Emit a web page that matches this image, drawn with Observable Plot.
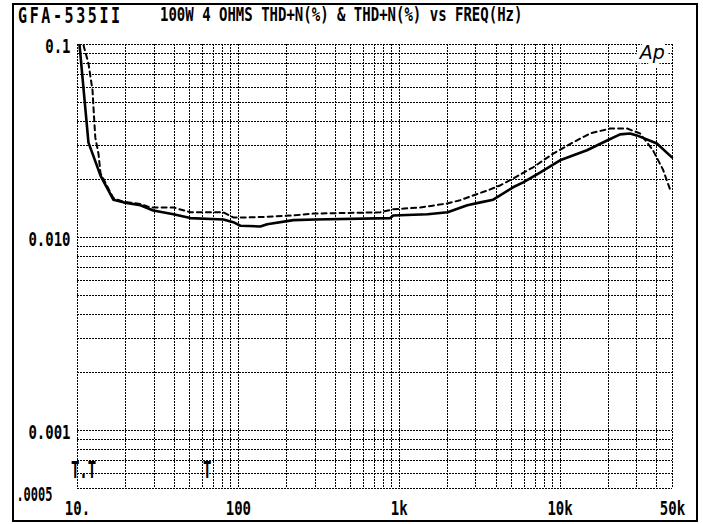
<!DOCTYPE html>
<html><head><meta charset="utf-8">
<script src="https://cdn.jsdelivr.net/npm/d3@7"></script>
<script src="https://cdn.jsdelivr.net/npm/@observablehq/plot@0.6"></script>
<style>
body{margin:0;background:#fff;}
#wrap{position:relative;width:703px;height:524px;overflow:hidden;background:#fff;}
#frame{position:absolute;left:12px;top:3px;width:686px;height:519px;border:2px solid #000;box-sizing:border-box;pointer-events:none;}
.ttl{position:absolute;top:3px;font:bold 14px "DejaVu Sans Mono",monospace;color:#000;white-space:pre;transform:scaleY(1.4);transform-origin:0 0;}
#chart{position:absolute;left:0;top:26px;}
</style></head>
<body>
<div id="wrap">
  <div class="ttl" id="t1" style="left:18px;letter-spacing:2.6px;font-size:15px;"></div>
  <div class="ttl" id="t2" style="left:160px;"></div>
  <div id="chart"></div>
  <div id="frame"></div>
</div>
<script>
// ---- data ----
const modelName = "GFA-535II";
const titleText = "100W 4 OHMS THD+N(%) & THD+N(%) vs FREQ(Hz)";

// solid trace (Hz, THD+N %)
const solidFreq = [10.3, 11.7, 12.4, 13.9, 16.7, 19.3, 24.6, 29.6, 39.5, 50.3, 80.7, 93, 103, 137, 151, 220, 300, 880, 918, 1500, 2000, 2650, 3200, 3840, 5100, 5900, 7500, 10000, 14700, 19600, 23600, 27200, 30000, 40000, 49600];
const solidThd  = [0.099, 0.031, 0.0272, 0.0209, 0.0157, 0.0152, 0.0147, 0.0138, 0.0132, 0.0126, 0.0124, 0.0120, 0.0115, 0.0114, 0.0117, 0.0123, 0.0124, 0.0126, 0.0130, 0.0132, 0.0135, 0.0147, 0.0152, 0.0157, 0.0182, 0.0193, 0.0217, 0.0251, 0.0283, 0.0318, 0.0342, 0.0346, 0.0338, 0.0307, 0.0260];

// dashed trace (Hz, THD+N %)
const dashFreq = [10.9, 11.7, 12.4, 12.6, 12.9, 13.5, 13.9, 16.7, 19.3, 24.6, 28.4, 39.5, 50.3, 80.7, 93, 114, 151, 220, 292, 762, 918, 1350, 1990, 2390, 2880, 3520, 4240, 5100, 6800, 9060, 12050, 15360, 20460, 26070, 31400, 37800, 43600, 48200];
const dashThd  = [0.099, 0.0798, 0.0578, 0.0455, 0.0330, 0.0272, 0.0215, 0.0160, 0.0153, 0.0149, 0.0143, 0.0143, 0.0135, 0.0135, 0.0127, 0.0127, 0.0128, 0.0130, 0.0133, 0.0135, 0.0140, 0.0143, 0.0150, 0.0156, 0.0165, 0.0175, 0.0186, 0.0202, 0.0231, 0.0272, 0.0311, 0.0346, 0.0367, 0.0367, 0.0346, 0.0283, 0.0225, 0.0178];

// axis ticks and labels
const xTickValues = [10, 100, 1000, 10000, 50000];
const xTickLabels = ["10.", "100", "1k", "10k", "50k"];
const yTickValues = [0.1, 0.01, 0.001];
const yTickLabels = ["0.1", "0.010", "0.001"];
const yLowTickValues = [0.0005];
const yLowTickLabels = [".0005"];
const xDomain = [10, 50000];
const yDomain = [0.0005, 0.1];

// cursor markers and logo
const markerFreq = [10.9, 64];
const markerThd = [0.00062, 0.00062];
const markerText = ["T.T", "T"];
const logoFreq = [37500];
const logoThd = [0.0905];
const logoText = ["Ap"];

// grid positions (1..9 per decade)
const xGrid = [10, 100, 1000, 10000].flatMap(d => d3.range(1, 10).map(k => k * d)).filter(v => v <= 50000);
const yGrid = [0.0001, 0.001, 0.01].flatMap(d => d3.range(1, 10).map(k => +(k * d).toPrecision(3))).filter(v => v >= 0.0005).concat([0.1]);

const solid = solidFreq.map((f, i) => ({f, v: solidThd[i]}));
const dashed = dashFreq.map((f, i) => ({f, v: dashThd[i]}));
const markers = markerFreq.map((f, i) => ({f, v: markerThd[i], t: markerText[i]}));
const logo = logoFreq.map((f, i) => ({f, v: logoThd[i], t: logoText[i]}));
const xTicks = xTickValues.map((v, i) => ({v, t: xTickLabels[i]}));
const yTicks = yTickValues.map((v, i) => ({v, t: yTickLabels[i]}));
const yLowTicks = yLowTickValues.map((v, i) => ({v, t: yLowTickLabels[i]}));

document.getElementById("t1").textContent = modelName;
document.getElementById("t2").textContent = titleText;

const dots = "1.5,1.5";
const chart = Plot.plot({
  width: 703,
  height: 498,
  marginLeft: 77,
  marginRight: 31,
  marginTop: 18,
  marginBottom: 36,
  x: {type: "log", domain: xDomain, axis: null},
  y: {type: "log", domain: yDomain, axis: null},
  style: {fontFamily: "DejaVu Sans Mono", fontWeight: "bold", fontSize: "14px", color: "#000", background: "transparent"},
  marks: [
    Plot.ruleX(xGrid, {x: d => d, stroke: "#000", strokeWidth: 1, strokeDasharray: dots, shapeRendering: "crispEdges"}),
    Plot.ruleY(yGrid, {y: d => d, stroke: "#000", strokeWidth: 1, strokeDasharray: dots, shapeRendering: "crispEdges"}),
    Plot.text(logo, {x: "f", y: "v", text: "t", fontFamily: "DejaVu Sans", fontStyle: "italic", fontWeight: "normal", fontSize: 19, stroke: "#fff", strokeWidth: 9, fill: "#000"}),
    Plot.text(markers, {x: "f", y: "v", text: "t", fontSize: 14, fontWeight: "bold"}),
    Plot.line(dashed, {x: "f", y: "v", stroke: "#000", strokeWidth: 2, strokeDasharray: "5,4"}),
    Plot.line(solid, {x: "f", y: "v", stroke: "#000", strokeWidth: 2.6}),
    // tick labels placed through the x / y scales
    Plot.text(xTicks, {x: "v", text: "t", frameAnchor: "bottom", lineAnchor: "top", dy: 13, fontSize: 14}),
    Plot.text(yTicks, {y: "v", text: "t", frameAnchor: "left", textAnchor: "end", dx: -7, dy: 2, fontSize: 14}),
    Plot.text(yLowTicks, {y: "v", text: "t", frameAnchor: "left", textAnchor: "end", dx: -25, dy: 6, fontSize: 12})
  ]
});
document.getElementById("chart").appendChild(chart);

// stretch labels vertically, like the tall plotter font
const tickSet = new Set([...xTickLabels, ...yTickLabels]);
const lowSet = new Set(yLowTickLabels);
const markSet = new Set(markerText);
chart.querySelectorAll("text").forEach(t => {
  const tr = t.getAttribute("transform");
  if (!tr) return;
  if (tickSet.has(t.textContent)) t.setAttribute("transform", tr + " scale(1,1.4)");
  else if (lowSet.has(t.textContent)) t.setAttribute("transform", tr + " scale(1,1.65)");
  else if (markSet.has(t.textContent)) t.setAttribute("transform", tr + " scale(1,1.7)");
});
</script>
</body></html>
